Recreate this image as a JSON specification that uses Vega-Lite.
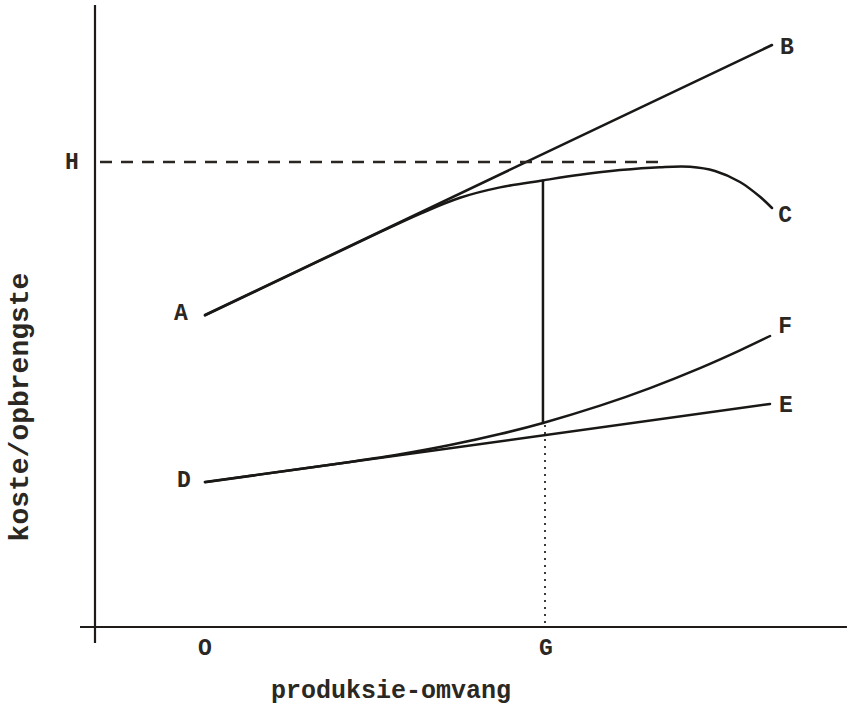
{
  "$schema": "https://vega.github.io/schema/vega-lite/v6.json",
  "width": 847,
  "height": 710,
  "autosize": {"type": "none"},
  "padding": 0,
  "background": "#ffffff",
  "config": {"view": {"stroke": null}},
  "datasets": {
    "axes": [
      {"id": "vertical", "i": 0, "x": -3.235, "y": 31.1},
      {"id": "vertical", "i": 1, "x": -3.235, "y": -0.8},
      {"id": "horizontal", "i": 0, "x": -3.676, "y": 0},
      {"id": "horizontal", "i": 1, "x": 18.88, "y": 0}
    ],
    "curves": [
      {"series": "AB", "i": 0, "x": 0, "y": 15.6},
      {"series": "AB", "i": 1, "x": 16.676, "y": 29.1},
      {"series": "C", "i": 0, "x": 0, "y": 15.58},
      {"series": "C", "i": 1, "x": 2.794, "y": 17.84},
      {"series": "C", "i": 2, "x": 5.147, "y": 19.74},
      {"series": "C", "i": 3, "x": 6.324, "y": 20.66},
      {"series": "C", "i": 4, "x": 7.5, "y": 21.46},
      {"series": "C", "i": 5, "x": 8.676, "y": 21.98},
      {"series": "C", "i": 6, "x": 9.941, "y": 22.33},
      {"series": "C", "i": 7, "x": 11.03, "y": 22.61},
      {"series": "C", "i": 8, "x": 12.206, "y": 22.845},
      {"series": "C", "i": 9, "x": 13.382, "y": 22.99},
      {"series": "C", "i": 10, "x": 14.265, "y": 23.01},
      {"series": "C", "i": 11, "x": 15.0, "y": 22.8},
      {"series": "C", "i": 12, "x": 15.735, "y": 22.25},
      {"series": "C", "i": 13, "x": 16.324, "y": 21.51},
      {"series": "C", "i": 14, "x": 16.676, "y": 20.95},
      {"series": "DE", "i": 0, "x": 0, "y": 7.25},
      {"series": "DE", "i": 1, "x": 16.618, "y": 11.15},
      {"series": "F", "i": 0, "x": 0, "y": 7.24},
      {"series": "F", "i": 1, "x": 2.794, "y": 7.9},
      {"series": "F", "i": 2, "x": 4.265, "y": 8.25},
      {"series": "F", "i": 3, "x": 5.735, "y": 8.634},
      {"series": "F", "i": 4, "x": 7.206, "y": 9.095},
      {"series": "F", "i": 5, "x": 8.676, "y": 9.647},
      {"series": "F", "i": 6, "x": 9.941, "y": 10.203},
      {"series": "F", "i": 7, "x": 11.618, "y": 11.066},
      {"series": "F", "i": 8, "x": 13.088, "y": 11.946},
      {"series": "F", "i": 9, "x": 14.559, "y": 12.945},
      {"series": "F", "i": 10, "x": 15.735, "y": 13.833},
      {"series": "F", "i": 11, "x": 16.618, "y": 14.55},
      {"series": "Gsolid", "i": 0, "x": 9.94, "y": 22.33},
      {"series": "Gsolid", "i": 1, "x": 9.94, "y": 10.2}
    ],
    "hline": [
      {"id": "H", "i": 0, "x": -3.088, "y": 23.25},
      {"id": "H", "i": 1, "x": 13.588, "y": 23.25}
    ],
    "gline": [
      {"id": "G", "i": 0, "x": 10.0, "y": 10.1},
      {"id": "G", "i": 1, "x": 10.0, "y": 0}
    ],
    "labels": [
      {"label": "A", "x": -0.706, "y": 15.7},
      {"label": "B", "x": 17.118, "y": 29.0},
      {"label": "C", "x": 17.06, "y": 20.6},
      {"label": "D", "x": -0.618, "y": 7.35},
      {"label": "E", "x": 17.088, "y": 11.1},
      {"label": "F", "x": 17.06, "y": 15.05},
      {"label": "H", "x": -3.912, "y": 23.25},
      {"label": "O", "x": 0, "y": -1.05},
      {"label": "G", "x": 10.03, "y": -1.05}
    ],
    "xtitle": [{"label": "produksie-omvang", "x": 5.47, "y": -3.15}],
    "ytitle": [{"label": "koste/opbrengste", "x": -5.44, "y": 11.0}]
  },
  "encoding": {
    "x": {"field": "x", "type": "quantitative", "scale": {"domain": [-6.029, 18.882], "nice": false, "zero": false}, "axis": null},
    "y": {"field": "y", "type": "quantitative", "scale": {"domain": [-4.15, 31.35], "nice": false, "zero": false}, "axis": null}
  },
  "layer": [
    {
      "data": {"name": "axes"},
      "mark": {"type": "line", "stroke": "#1e1b18", "strokeWidth": 2.2},
      "encoding": {"detail": {"field": "id"}, "order": {"field": "i"}}
    },
    {
      "data": {"name": "curves"},
      "mark": {"type": "line", "stroke": "#1a1816", "strokeWidth": 2.5, "interpolate": "catmull-rom", "strokeCap": "round"},
      "encoding": {"detail": {"field": "series"}, "order": {"field": "i"}}
    },
    {
      "data": {"name": "hline"},
      "mark": {"type": "line", "stroke": "#2a2622", "strokeWidth": 2.5, "strokeDash": [12, 9]},
      "encoding": {"detail": {"field": "id"}, "order": {"field": "i"}}
    },
    {
      "data": {"name": "gline"},
      "mark": {"type": "line", "stroke": "#2a2622", "strokeWidth": 1.8, "strokeDash": [2, 5]},
      "encoding": {"detail": {"field": "id"}, "order": {"field": "i"}}
    },
    {
      "data": {"name": "labels"},
      "mark": {"type": "text", "font": "Liberation Mono", "fontWeight": "bold", "fontSize": 23, "color": "#2b2723", "align": "center", "baseline": "middle"},
      "encoding": {"text": {"field": "label"}}
    },
    {
      "data": {"name": "xtitle"},
      "mark": {"type": "text", "font": "Liberation Mono", "fontWeight": "bold", "fontSize": 25, "color": "#2b2723", "align": "center", "baseline": "middle"},
      "encoding": {"text": {"field": "label"}}
    },
    {
      "data": {"name": "ytitle"},
      "mark": {"type": "text", "font": "Liberation Mono", "fontWeight": "bold", "fontSize": 28, "angle": 270, "color": "#2b2723", "align": "center", "baseline": "middle"},
      "encoding": {"text": {"field": "label"}}
    }
  ]
}
